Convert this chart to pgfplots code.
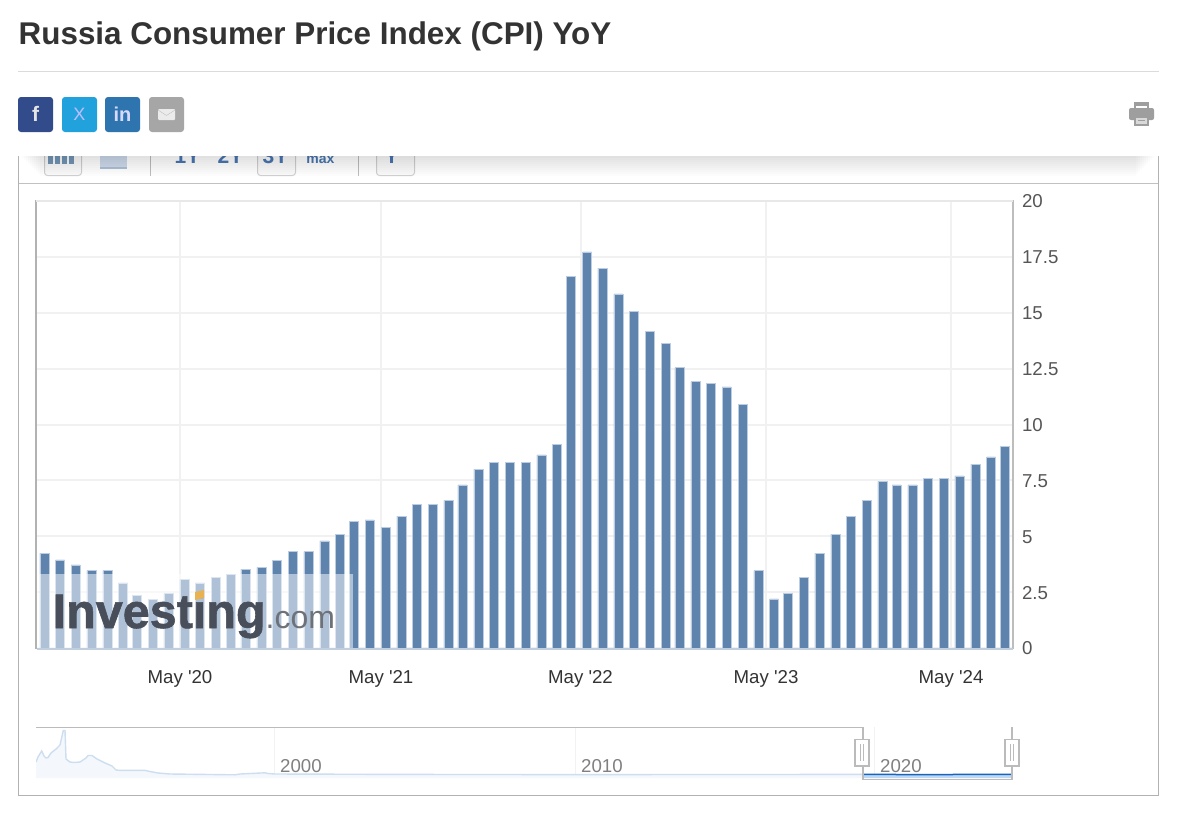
\documentclass[border=0pt]{standalone}
\usepackage{fontspec}
\setmainfont{Liberation Sans}
\usepackage{pgfplots}
\pgfplotsset{compat=1.18}
\usepackage{pgfplotstable}
\definecolor{barblue}{HTML}{5E84AE}
\definecolor{baredge}{HTML}{BCCDE2}
\definecolor{gridc}{HTML}{F1F1F1}
\definecolor{linec}{HTML}{B2B2B2}
\definecolor{tickc}{HTML}{555555}
\definecolor{navgray}{HTML}{BBBBBB}
\definecolor{btnblue}{HTML}{4A7AB4}
\definecolor{fbc}{RGB}{50,75,139}
\definecolor{twc}{RGB}{34,162,221}
\definecolor{lic}{RGB}{46,117,176}
\definecolor{mailc}{RGB}{166,166,166}
\definecolor{navfill}{RGB}{244,248,253}
\definecolor{navline}{RGB}{205,222,240}
\definecolor{selfill}{RGB}{190,215,243}
\definecolor{selline}{RGB}{21,101,192}
\definecolor{basec}{RGB}{192,206,222}
\definecolor{wmdark}{RGB}{72,78,90}
\definecolor{wmlight}{RGB}{110,114,120}
\definecolor{wmorange}{RGB}{232,178,80}
\pgfplotstableread{
x y
44.3 4.24
60 3.94
75.7 3.72
91.3 3.46
107.3 3.46
123 2.91
137 2.36
152.7 2.19
168.3 2.43
184.3 3.06
200 2.91
215.7 3.15
231 3.31
245.3 3.53
261.3 3.61
277 3.92
292.7 4.31
308.3 4.31
324.3 4.79
340 5.1
354 5.67
369.7 5.73
385.7 5.41
401.3 5.9
417 6.44
432.7 6.44
448.3 6.6
462.3 7.3
478.3 8.0
494 8.32
510 8.32
525.7 8.32
541.3 8.64
557 9.11
571 16.62
587 17.72
602.3 17.0
618.3 15.84
634 15.05
650 14.18
665.7 13.63
679.3 12.54
695.3 11.92
711 11.84
726.7 11.68
742.5 10.9
758.3 3.46
774 2.2
788 2.45
803.7 3.16
819.3 4.24
835.3 5.1
851 5.9
866.7 6.6
882.3 7.46
896.7 7.3
912.3 7.3
928 7.6
943.7 7.6
959.3 7.7
975.3 8.23
991 8.55
1005 9.02
}\cpitable
\newcommand{\fs}[1]{\fontsize{#1pt}{#1pt}\selectfont}
\begin{document}
\begin{tikzpicture}
\path[use as bounding box,fill=white] (0,0) rectangle (1177pt,-819pt);
\begin{scope}[x=1pt,y=-1pt]
% frame
\draw[linec,line width=1pt] (18.5,150) -- (18.5,795.5) -- (1158.5,795.5) -- (1158.5,150);
\draw[linec!80,line width=1pt] (18.5,183.5) -- (1158.5,183.5);
% toolbar
\foreach \a/\b in {44.5/81.5,257.5/295.5,376.5/414.5}
  \draw[black!18,line width=1pt,fill=black!2,rounded corners=3pt] (\a,140) rectangle (\b,175.5);
\draw[black!25] (150.5,150) -- (150.5,175.5);
\draw[black!25] (358.5,150) -- (358.5,175.5);
\foreach \x in {48,55,62,69} \fill[barblue!85] (\x,150) rectangle (\x+5,164);
\fill[baredge!70] (100,150) rectangle (127,167);
\fill[barblue!50] (100,167) rectangle (127,168.5);
\node[anchor=base,font=\bfseries\fs{21},btnblue,inner sep=0] at (187.5,163.5) {1Y};
\node[anchor=base,font=\bfseries\fs{21},btnblue,inner sep=0] at (230.5,163.5) {2Y};
\node[anchor=base,font=\bfseries\fs{21},btnblue,inner sep=0] at (275.5,163.5) {3Y};
\node[anchor=base,font=\bfseries\fs{14},btnblue,inner sep=0] at (320.5,163) {max};
\node[anchor=base,font=\bfseries\fs{21},btnblue,inner sep=0] at (391.5,163.5) {Y};
% header and shadow
\fill[white] (0,0) rectangle (1177,156);
\foreach \i in {1,...,10} \fill[black,opacity=.010] (20+2*\i,156) rectangle (1156-2*\i,156+2*\i);
\draw[linec,line width=1pt] (18.5,156) -- (18.5,184);
\draw[linec,line width=1pt] (1158.5,156) -- (1158.5,184);
\node[anchor=base west,inner sep=0,font=\bfseries\fs{31.4},text=black!80] at (18.5,44.5) {Russia Consumer Price Index (CPI) YoY};
\draw[black!14,line width=1pt] (18,71.5) -- (1159,71.5);
\fill[fbc,rounded corners=3pt] (18,97) rectangle (53,132);
\fill[twc,rounded corners=3pt] (62,97) rectangle (97,132);
\fill[lic,rounded corners=3pt] (105,97) rectangle (140,132);
\fill[mailc,rounded corners=3pt] (149,97) rectangle (184,132);
\node[text=white!90!black,font=\bfseries\fs{21}] at (35.5,114) {f};
\node[text=white!75!blue,font=\fs{18}] at (79.5,114.5) {X};
\node[text=white!85!blue,font=\bfseries\fs{20}] at (122.5,114) {in};
\fill[white!92!black,rounded corners=1pt] (158,109) rectangle (175,120);
\draw[black!25] (158,110) -- (166.5,115.5) -- (175,110);
% print icon
\fill[black!38,rounded corners=2pt] (1129,108) rectangle (1154,120);
\fill[black!38] (1134,102) rectangle (1149,106);
\fill[black!38] (1134,102) rectangle (1136,108);
\fill[black!38] (1147,102) rectangle (1149,108);
\fill[black!38] (1134,116) rectangle (1149,126);
\fill[white!85!black] (1136,118) rectangle (1147,124);
\fill[black!38] (1138,120) rectangle (1145,121);
% navigator grid
\foreach \x in {274,575,874} \draw[black!5,line width=1pt] (\x,727) -- (\x,778);
\end{scope}
% main chart
\begin{axis}[
  at={(36pt,-648pt)},anchor=south west,
  width=976pt,height=447pt,scale only axis,
  xmin=36,xmax=1012,ymin=0,ymax=20,
  axis line style={draw=none},
  ytick={0,2.5,5,7.5,10,12.5,15,17.5,20},
  yticklabels={0,2.5,5,7.5,10,12.5,15,17.5,\raisebox{-1.5pt}{20}},
  yticklabel pos=right,
  xtick={180,381,580.5,766,951},
  xticklabels={May \textquotesingle 20,May \textquotesingle 21,May \textquotesingle 22,May \textquotesingle 23,May \textquotesingle 24},
  major tick length=0pt,
  grid=major,
  major grid style={gridc,line width=2pt},
  yticklabel style={anchor=west,xshift=6.5pt,yshift=-0.5pt,text=tickc,font=\fs{18.67}},
  xticklabel style={anchor=center,yshift=-31pt,text=black!80,font=\fs{18.67}},
]
\addplot[ybar,bar width=9pt,bar shift=0pt,fill=barblue,draw=baredge,line width=.6pt] table[x=x,y=y] {\cpitable};
\end{axis}
% navigator
\begin{axis}[
  at={(36pt,-778pt)},anchor=south west,
  width=976pt,height=50pt,scale only axis,
  xmin=36,xmax=1012,ymin=0,ymax=50,
  axis lines=none,clip=true,
]
\addplot[fill=navfill,draw=none] coordinates {
(36,16) (38,21) (41.7,27) (44,22) (46,20) (48,20.5) (51,25) (56,29) (60,33) (63.3,47.5) (65,47.5) (66,19) (70,16) (74,15.5) (80,16) (86,20) (88,22.5) (92,22.5) (97,19) (105,15) (112,12) (116,8) (120,7.6) (145,7.6) (150,6.5) (158,5) (170,4) (235,3.2) (240,4) (265,5.2) (268,4.5) (275,4) (400,3.6) (575,3.4) (700,3.5) (863,3.6)
} \closedcycle;
\addplot[draw=navline,line width=1.4pt] coordinates {
(36,16) (38,21) (41.7,27) (44,22) (46,20) (48,20.5) (51,25) (56,29) (60,33) (63.3,47.5) (65,47.5) (66,19) (70,16) (74,15.5) (80,16) (86,20) (88,22.5) (92,22.5) (97,19) (105,15) (112,12) (116,8) (120,7.6) (145,7.6) (150,6.5) (158,5) (170,4) (235,3.2) (240,4) (265,5.2) (268,4.5) (275,4) (400,3.6) (575,3.4) (700,3.5) (863,3.6)
};
\addplot[fill=selfill,draw=none] coordinates {
(863,3.6) (900,3.5) (940,3.4) (975,3.7) (1012,3.7)
} \closedcycle;
\addplot[draw=selline,line width=1.5pt] coordinates {
(863,3.6) (900,3.5) (940,3.4) (975,3.7) (1012,3.7)
};
\end{axis}
\begin{scope}[x=1pt,y=-1pt]
% axis lines
\draw[linec,line width=2pt] (36,200) -- (36,649);
\draw[linec!85,line width=2pt] (1013,200) -- (1013,649);
\draw[black!9,line width=2pt] (36,200.5) -- (1013,200.5);
\draw[basec,line width=2pt] (37,648.5) -- (1013,648.5);
% watermark
\fill[white,opacity=.5] (37,574) rectangle (353,648);
\node[anchor=base west,inner sep=0,text=wmdark,font=\bfseries\fs{48.5}\addfontfeature{FakeBold=1.2}] at (52.5,628) {Investing};
\node[anchor=base west,inner sep=0,font=\fs{32},text=wmlight] at (265.5,628) {.com};
\fill[wmorange] (195,592) -- (204,590) -- (204,598) -- (195,600) -- cycle;
% navigator chrome
\node[anchor=base west,inner sep=0,font=\fs{18.67},text=black!50] at (280,772) {2000};
\node[anchor=base west,inner sep=0,font=\fs{18.67},text=black!50] at (581,772) {2010};
\node[anchor=base west,inner sep=0,font=\fs{18.67},text=black!50] at (880,772) {2020};
\draw[navgray,line width=1.5pt] (36,727.5) -- (863,727.5) -- (863,779.5) -- (1012,779.5) -- (1012,727);
\foreach \a in {855,1005} {
  \fill[white] (\a,739.5) rectangle (\a+14,766);
  \draw[navgray,line width=1.2pt] (\a,739.5) rectangle (\a+14,766);
  \draw[navgray,line width=1pt] (\a+5.5,744) -- (\a+5.5,761);
  \draw[navgray,line width=1pt] (\a+8.5,744) -- (\a+8.5,761);
}
\end{scope}
\end{tikzpicture}
\end{document}
